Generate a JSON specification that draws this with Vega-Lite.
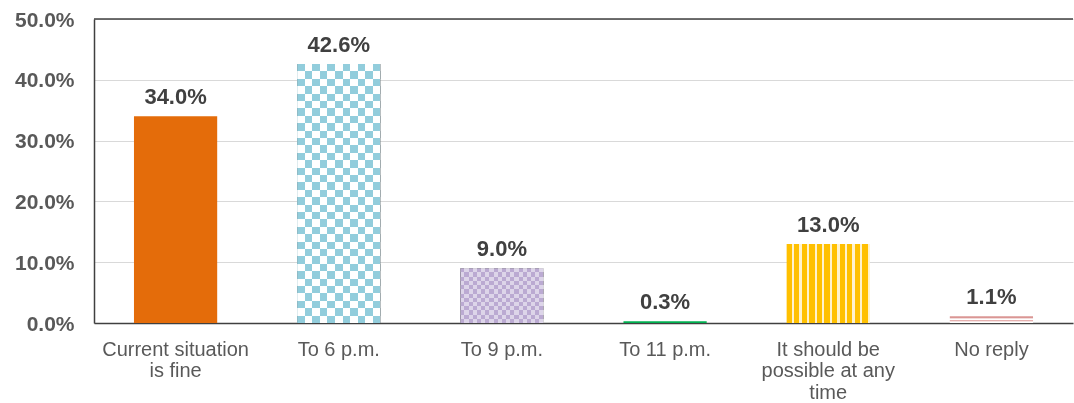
{
  "$schema": "https://vega.github.io/schema/vega-lite/v6.json",
  "width": 979,
  "height": 304,
  "autosize": "none",
  "padding": {"left": 94, "top": 19, "right": 1, "bottom": 80},
  "background": "white",
  "config": {"view": {"stroke": null}, "font": "Liberation Sans"},
  "layer": [
    {
      "data": {"values": [
        {"cat": "Current situation is fine", "value": 0.340},
        {"cat": "To 6 p.m.", "value": 0.426},
        {"cat": "To 9 p.m.", "value": 0.090},
        {"cat": "To 11 p.m.", "value": 0.003},
        {"cat": "It should be possible at any time", "value": 0.130},
        {"cat": "No reply", "value": 0.011}
      ]},
      "encoding": {
        "x": {"field": "cat", "type": "nominal", "sort": null,
          "scale": {"paddingInner": 0.49, "paddingOuter": 0.245},
          "axis": {"title": null, "labelAngle": 0, "ticks": false, "domainColor": "#404040", "domainWidth": 1.5,
            "labelFont": "Liberation Sans", "labelFontSize": 20, "labelColor": "#595959", "labelPadding": 16, "labelLineHeight": 21.5, "labelBaseline": "top",
            "labelExpr": "datum.label == 'Current situation is fine' ? ['Current situation', 'is fine'] : datum.label == 'It should be possible at any time' ? ['It should be', 'possible at any', 'time'] : datum.label"}},
        "y": {"field": "value", "type": "quantitative",
          "scale": {"domain": [0, 0.5]},
          "axis": {"title": null, "format": ".1%", "values": [0, 0.1, 0.2, 0.3, 0.4, 0.5], "ticks": false, "domainColor": "#404040", "domainWidth": 1.5,
            "gridColor": "#D9D9D9", "gridWidth": 1, "labelFont": "Liberation Sans", "labelFontSize": 21, "labelFontWeight": "bold", "labelColor": "#595959", "labelPadding": 20, "labelOffset": 1}}
      },
      "layer": [
        {"transform": [{"filter": "datum.cat == 'Current situation is fine'"}],
         "mark": {"type": "bar", "fill": "#E46C0A"}},
        {"transform": [{"filter": "datum.cat == 'To 6 p.m.'"}],
         "mark": {"type": "bar", "fill": {"gradient": "linear", "x1": 0, "y1": 0, "x2": 1, "y2": 0, "stops": [
           {"offset": 0, "color": "black"}, {"offset": 0.0909, "color": "black"}, {"offset": 0.0909, "color": "white"}, {"offset": 0.1818, "color": "white"},
           {"offset": 0.1818, "color": "black"}, {"offset": 0.2727, "color": "black"}, {"offset": 0.2727, "color": "white"}, {"offset": 0.3636, "color": "white"},
           {"offset": 0.3636, "color": "black"}, {"offset": 0.4545, "color": "black"}, {"offset": 0.4545, "color": "white"}, {"offset": 0.5455, "color": "white"},
           {"offset": 0.5455, "color": "black"}, {"offset": 0.6364, "color": "black"}, {"offset": 0.6364, "color": "white"}, {"offset": 0.7273, "color": "white"},
           {"offset": 0.7273, "color": "black"}, {"offset": 0.8182, "color": "black"}, {"offset": 0.8182, "color": "white"}, {"offset": 0.9091, "color": "white"},
           {"offset": 0.9091, "color": "black"}, {"offset": 1, "color": "black"}]}}},
        {"transform": [{"filter": "datum.cat == 'To 6 p.m.'"}],
         "mark": {"type": "bar", "blend": "difference", "fill": {"gradient": "linear", "x1": 0, "y1": 0, "x2": 0, "y2": 1, "stops": [
           {"offset": 0, "color": "black"}, {"offset": 0.02857, "color": "black"}, {"offset": 0.02857, "color": "white"}, {"offset": 0.05714, "color": "white"},
           {"offset": 0.05714, "color": "black"}, {"offset": 0.08571, "color": "black"}, {"offset": 0.08571, "color": "white"}, {"offset": 0.11429, "color": "white"},
           {"offset": 0.11429, "color": "black"}, {"offset": 0.14286, "color": "black"}, {"offset": 0.14286, "color": "white"}, {"offset": 0.17143, "color": "white"},
           {"offset": 0.17143, "color": "black"}, {"offset": 0.2, "color": "black"}, {"offset": 0.2, "color": "white"}, {"offset": 0.22857, "color": "white"},
           {"offset": 0.22857, "color": "black"}, {"offset": 0.25714, "color": "black"}, {"offset": 0.25714, "color": "white"}, {"offset": 0.28571, "color": "white"},
           {"offset": 0.28571, "color": "black"}, {"offset": 0.31429, "color": "black"}, {"offset": 0.31429, "color": "white"}, {"offset": 0.34286, "color": "white"},
           {"offset": 0.34286, "color": "black"}, {"offset": 0.37143, "color": "black"}, {"offset": 0.37143, "color": "white"}, {"offset": 0.4, "color": "white"},
           {"offset": 0.4, "color": "black"}, {"offset": 0.42857, "color": "black"}, {"offset": 0.42857, "color": "white"}, {"offset": 0.45714, "color": "white"},
           {"offset": 0.45714, "color": "black"}, {"offset": 0.48571, "color": "black"}, {"offset": 0.48571, "color": "white"}, {"offset": 0.51429, "color": "white"},
           {"offset": 0.51429, "color": "black"}, {"offset": 0.54286, "color": "black"}, {"offset": 0.54286, "color": "white"}, {"offset": 0.57143, "color": "white"},
           {"offset": 0.57143, "color": "black"}, {"offset": 0.6, "color": "black"}, {"offset": 0.6, "color": "white"}, {"offset": 0.62857, "color": "white"},
           {"offset": 0.62857, "color": "black"}, {"offset": 0.65714, "color": "black"}, {"offset": 0.65714, "color": "white"}, {"offset": 0.68571, "color": "white"},
           {"offset": 0.68571, "color": "black"}, {"offset": 0.71429, "color": "black"}, {"offset": 0.71429, "color": "white"}, {"offset": 0.74286, "color": "white"},
           {"offset": 0.74286, "color": "black"}, {"offset": 0.77143, "color": "black"}, {"offset": 0.77143, "color": "white"}, {"offset": 0.8, "color": "white"},
           {"offset": 0.8, "color": "black"}, {"offset": 0.82857, "color": "black"}, {"offset": 0.82857, "color": "white"}, {"offset": 0.85714, "color": "white"},
           {"offset": 0.85714, "color": "black"}, {"offset": 0.88571, "color": "black"}, {"offset": 0.88571, "color": "white"}, {"offset": 0.91429, "color": "white"},
           {"offset": 0.91429, "color": "black"}, {"offset": 0.94286, "color": "black"}, {"offset": 0.94286, "color": "white"}, {"offset": 0.97143, "color": "white"},
           {"offset": 0.97143, "color": "black"}, {"offset": 1, "color": "black"}]}}},
        {"transform": [{"filter": "datum.cat == 'To 6 p.m.'"}],
         "mark": {"type": "bar", "blend": "screen", "fill": "#92CDDC"}},
        {"transform": [{"filter": "datum.cat == 'To 9 p.m.'"}],
         "mark": {"type": "bar", "fill": {"gradient": "linear", "x1": 0, "y1": 0, "x2": 1, "y2": 0, "stops": [
           {"offset": 0, "color": "black"}, {"offset": 0.05, "color": "black"}, {"offset": 0.05, "color": "#808080"}, {"offset": 0.1, "color": "#808080"},
           {"offset": 0.1, "color": "black"}, {"offset": 0.15, "color": "black"}, {"offset": 0.15, "color": "#808080"}, {"offset": 0.2, "color": "#808080"},
           {"offset": 0.2, "color": "black"}, {"offset": 0.25, "color": "black"}, {"offset": 0.25, "color": "#808080"}, {"offset": 0.3, "color": "#808080"},
           {"offset": 0.3, "color": "black"}, {"offset": 0.35, "color": "black"}, {"offset": 0.35, "color": "#808080"}, {"offset": 0.4, "color": "#808080"},
           {"offset": 0.4, "color": "black"}, {"offset": 0.45, "color": "black"}, {"offset": 0.45, "color": "#808080"}, {"offset": 0.5, "color": "#808080"},
           {"offset": 0.5, "color": "black"}, {"offset": 0.55, "color": "black"}, {"offset": 0.55, "color": "#808080"}, {"offset": 0.6, "color": "#808080"},
           {"offset": 0.6, "color": "black"}, {"offset": 0.65, "color": "black"}, {"offset": 0.65, "color": "#808080"}, {"offset": 0.7, "color": "#808080"},
           {"offset": 0.7, "color": "black"}, {"offset": 0.75, "color": "black"}, {"offset": 0.75, "color": "#808080"}, {"offset": 0.8, "color": "#808080"},
           {"offset": 0.8, "color": "black"}, {"offset": 0.85, "color": "black"}, {"offset": 0.85, "color": "#808080"}, {"offset": 0.9, "color": "#808080"},
           {"offset": 0.9, "color": "black"}, {"offset": 0.95, "color": "black"}, {"offset": 0.95, "color": "#808080"}, {"offset": 1, "color": "#808080"}]}}},
        {"transform": [{"filter": "datum.cat == 'To 9 p.m.'"}],
         "mark": {"type": "bar", "blend": "difference", "fill": {"gradient": "linear", "x1": 0, "y1": 0, "x2": 0, "y2": 1, "stops": [
           {"offset": 0, "color": "black"}, {"offset": 0.07692, "color": "black"}, {"offset": 0.07692, "color": "#808080"}, {"offset": 0.15385, "color": "#808080"},
           {"offset": 0.15385, "color": "black"}, {"offset": 0.23077, "color": "black"}, {"offset": 0.23077, "color": "#808080"}, {"offset": 0.30769, "color": "#808080"},
           {"offset": 0.30769, "color": "black"}, {"offset": 0.38462, "color": "black"}, {"offset": 0.38462, "color": "#808080"}, {"offset": 0.46154, "color": "#808080"},
           {"offset": 0.46154, "color": "black"}, {"offset": 0.53846, "color": "black"}, {"offset": 0.53846, "color": "#808080"}, {"offset": 0.61538, "color": "#808080"},
           {"offset": 0.61538, "color": "black"}, {"offset": 0.69231, "color": "black"}, {"offset": 0.69231, "color": "#808080"}, {"offset": 0.76923, "color": "#808080"},
           {"offset": 0.76923, "color": "black"}, {"offset": 0.84615, "color": "black"}, {"offset": 0.84615, "color": "#808080"}, {"offset": 0.92308, "color": "#808080"},
           {"offset": 0.92308, "color": "black"}, {"offset": 1, "color": "black"}]}}},
        {"transform": [{"filter": "datum.cat == 'To 9 p.m.'"}],
         "mark": {"type": "bar", "blend": "screen", "fill": "#BBAAD2"}},
        {"transform": [{"filter": "datum.cat == 'To 11 p.m.'"}],
         "mark": {"type": "bar", "fill": "#00B050"}},
        {"transform": [{"filter": "datum.cat == 'It should be possible at any time'"}],
         "mark": {"type": "bar", "fill": {"gradient": "linear", "x1": 0, "y1": 0, "x2": 1, "y2": 0, "stops": [
           {"offset": 0, "color": "#FFC000"}, {"offset": 0.0636, "color": "#FFC000"}, {"offset": 0.0636, "color": "#FFF2CC"}, {"offset": 0.0909, "color": "#FFF2CC"},
           {"offset": 0.0909, "color": "#FFC000"}, {"offset": 0.1545, "color": "#FFC000"}, {"offset": 0.1545, "color": "#FFF2CC"}, {"offset": 0.1818, "color": "#FFF2CC"},
           {"offset": 0.1818, "color": "#FFC000"}, {"offset": 0.2455, "color": "#FFC000"}, {"offset": 0.2455, "color": "#FFF2CC"}, {"offset": 0.2727, "color": "#FFF2CC"},
           {"offset": 0.2727, "color": "#FFC000"}, {"offset": 0.3364, "color": "#FFC000"}, {"offset": 0.3364, "color": "#FFF2CC"}, {"offset": 0.3636, "color": "#FFF2CC"},
           {"offset": 0.3636, "color": "#FFC000"}, {"offset": 0.4273, "color": "#FFC000"}, {"offset": 0.4273, "color": "#FFF2CC"}, {"offset": 0.4545, "color": "#FFF2CC"},
           {"offset": 0.4545, "color": "#FFC000"}, {"offset": 0.5181, "color": "#FFC000"}, {"offset": 0.5181, "color": "#FFF2CC"}, {"offset": 0.5455, "color": "#FFF2CC"},
           {"offset": 0.5455, "color": "#FFC000"}, {"offset": 0.6091, "color": "#FFC000"}, {"offset": 0.6091, "color": "#FFF2CC"}, {"offset": 0.6364, "color": "#FFF2CC"},
           {"offset": 0.6364, "color": "#FFC000"}, {"offset": 0.7, "color": "#FFC000"}, {"offset": 0.7, "color": "#FFF2CC"}, {"offset": 0.7273, "color": "#FFF2CC"},
           {"offset": 0.7273, "color": "#FFC000"}, {"offset": 0.7909, "color": "#FFC000"}, {"offset": 0.7909, "color": "#FFF2CC"}, {"offset": 0.8182, "color": "#FFF2CC"},
           {"offset": 0.8182, "color": "#FFC000"}, {"offset": 0.8818, "color": "#FFC000"}, {"offset": 0.8818, "color": "#FFF2CC"}, {"offset": 0.9091, "color": "#FFF2CC"},
           {"offset": 0.9091, "color": "#FFC000"}, {"offset": 0.9727, "color": "#FFC000"}, {"offset": 0.9727, "color": "#FFF2CC"}, {"offset": 1, "color": "#FFF2CC"}]}}},
        {"transform": [{"filter": "datum.cat == 'No reply'"}],
         "mark": {"type": "bar", "fill": {"gradient": "linear", "x1": 0, "y1": 0, "x2": 0, "y2": 1, "stops": [
           {"offset": 0, "color": "#DA9694"}, {"offset": 0.2, "color": "#DA9694"}, {"offset": 0.2, "color": "#F2DCDB"}, {"offset": 0.35, "color": "#F2DCDB"},
           {"offset": 0.35, "color": "#FFFFFF"}, {"offset": 0.5, "color": "#FFFFFF"}, {"offset": 0.5, "color": "#E6B0AF"}, {"offset": 0.7, "color": "#E6B0AF"},
           {"offset": 0.7, "color": "#F7E4E3"}, {"offset": 0.85, "color": "#F7E4E3"}, {"offset": 0.85, "color": "#FFFFFF"}, {"offset": 1, "color": "#FFFFFF"}]}}},
        {"mark": {"type": "text", "font": "Liberation Sans", "fontSize": 22, "fontWeight": "bold", "color": "#404040", "baseline": "alphabetic", "dy": -12},
         "encoding": {"text": {"field": "value", "type": "quantitative", "format": ".1%"}}}
      ]
    },
    {
      "data": {"values": [{"top": 0.5}]},
      "mark": {"type": "rule", "color": "#404040", "strokeWidth": 1.5},
      "encoding": {"y": {"field": "top", "type": "quantitative"}}
    }
  ]
}
